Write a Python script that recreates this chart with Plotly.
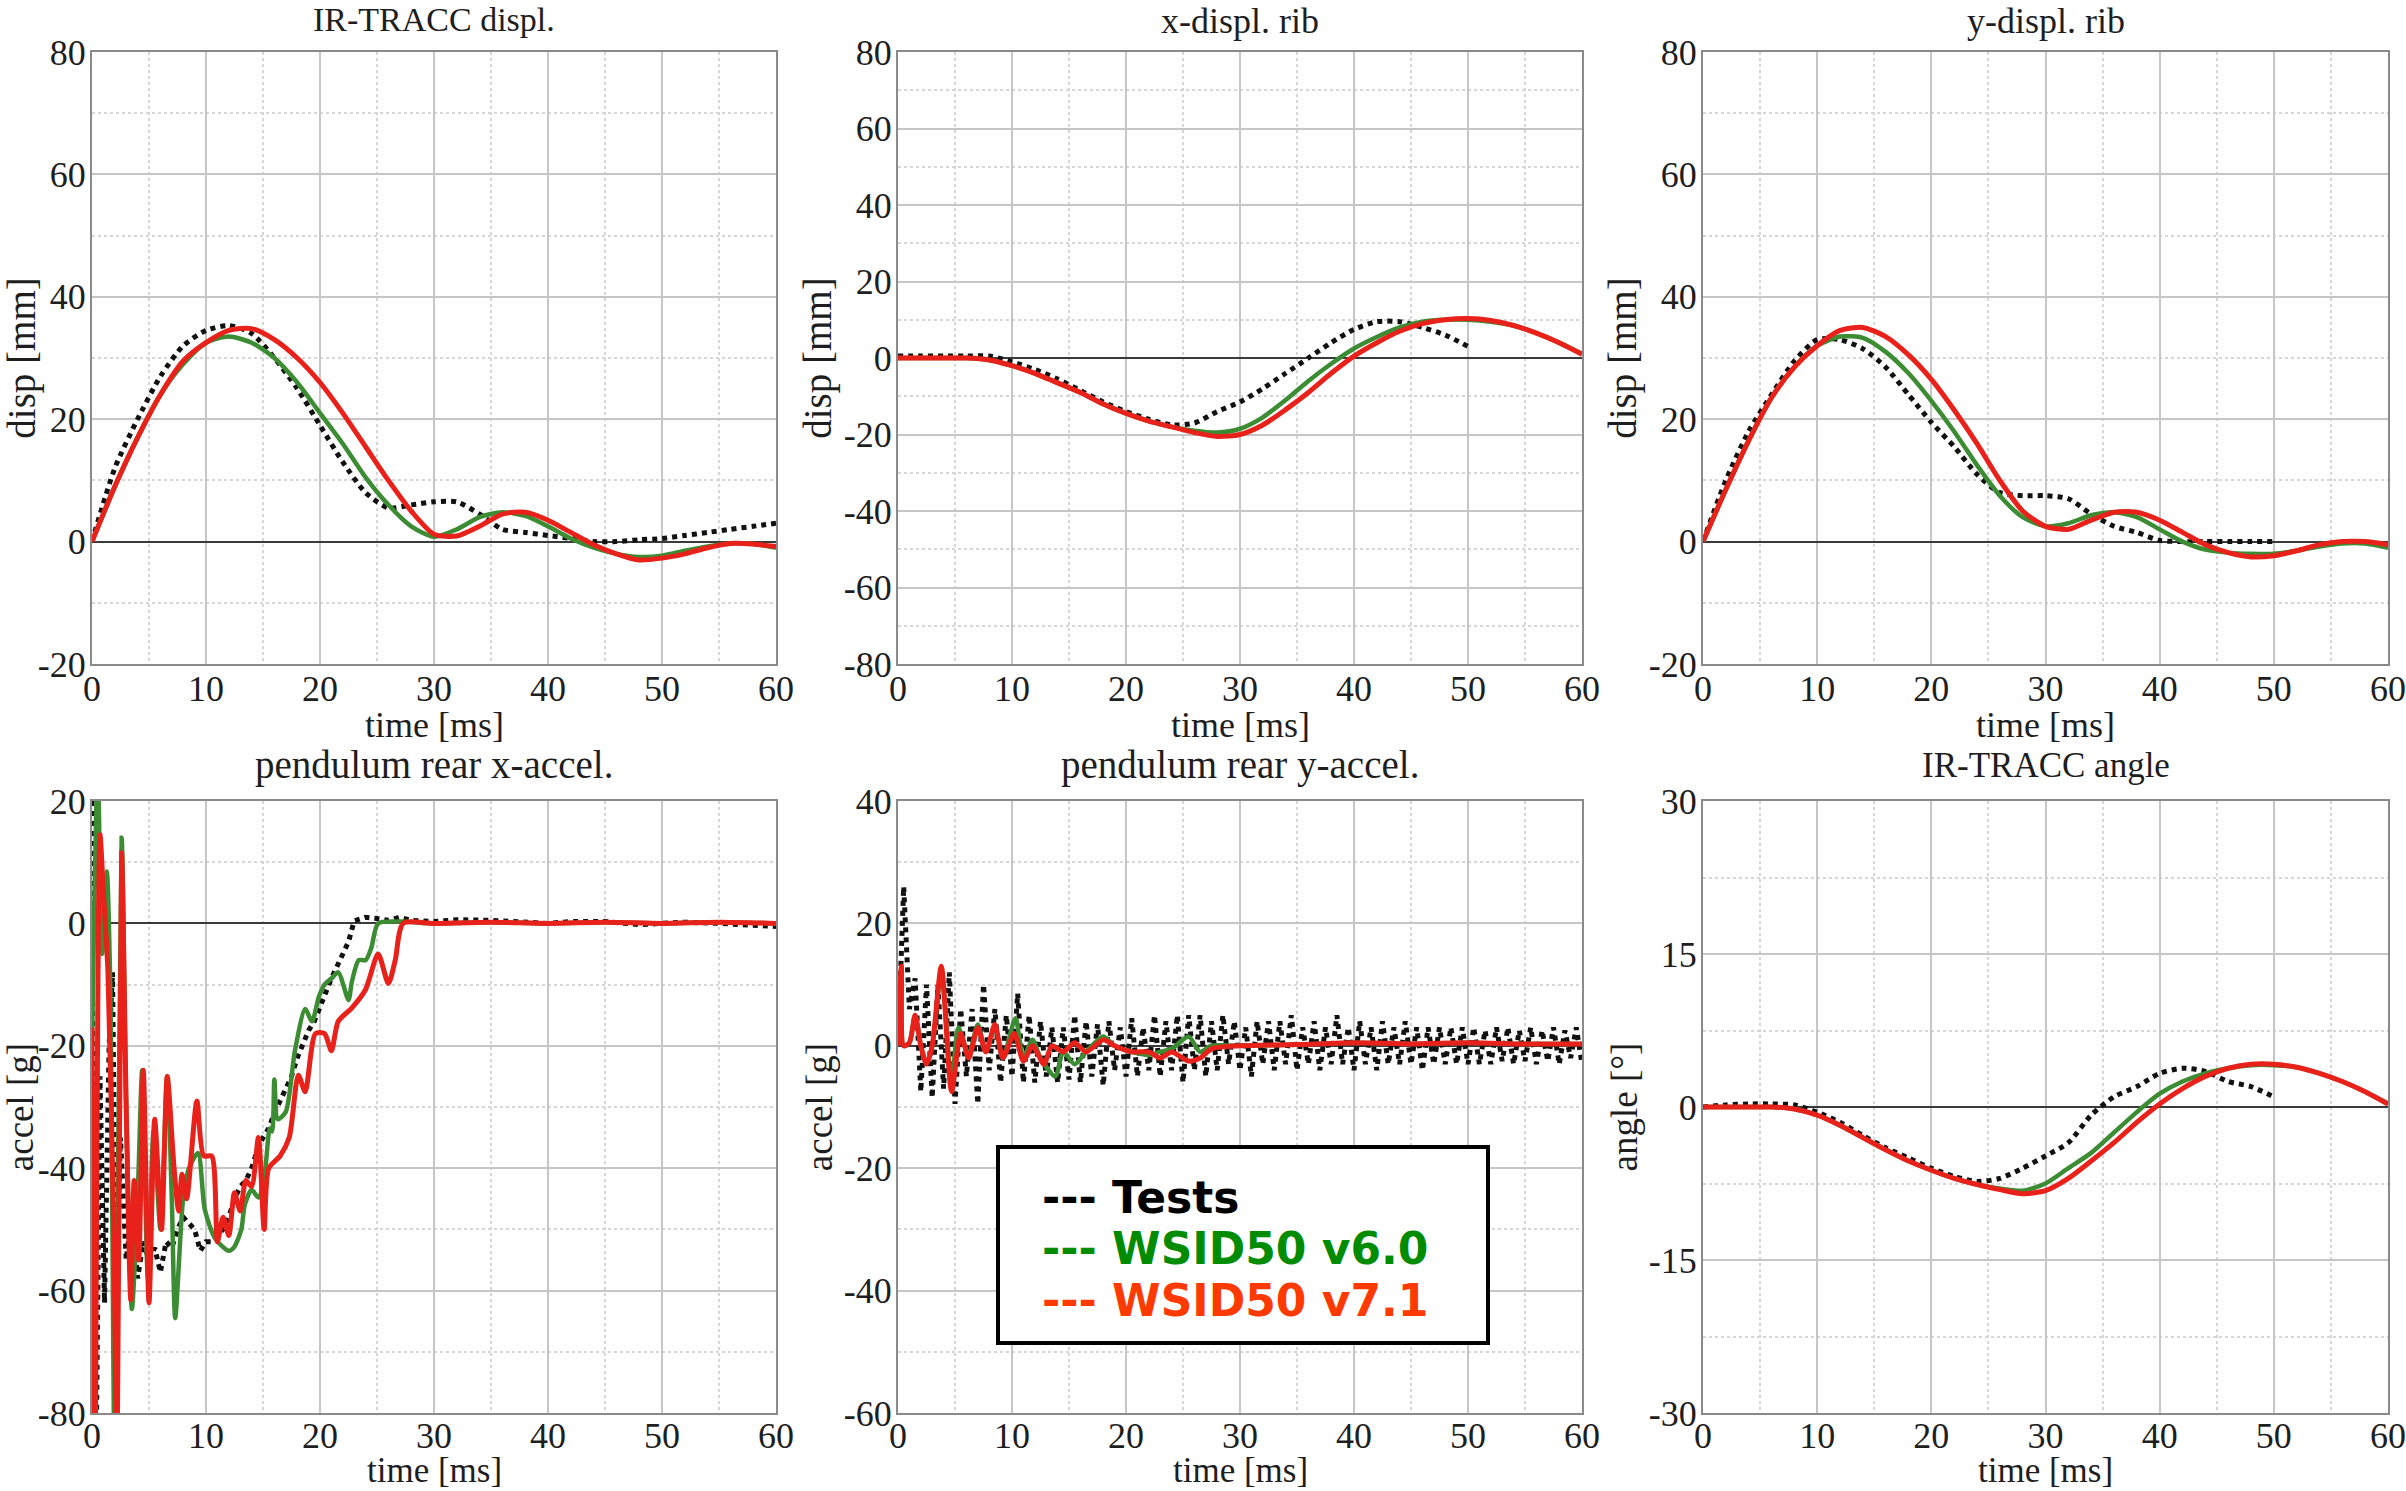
import plotly.graph_objects as go
from plotly.subplots import make_subplots

# ---------------- data ----------------
T2 = list(range(0, 61, 2))          # 0..60 ms every 2 ms
T2_50 = list(range(0, 51, 2))       # tests end at 50 ms
T_HALF = [i * 0.5 for i in range(121)]

# IR-TRACC displ.
irtracc_test = [0, 12, 20, 27, 32, 34.5, 35.3, 34, 30, 25, 19, 13, 8, 5.5, 6, 6.5, 6.5, 4.5, 2, 1.5, 1,
                0.5, 0, 0, 0.3, 0.5, 1, 1.5, 2, 2.5, 3]
irtracc_v60 = [0, 9, 17, 24, 29, 32.5, 33.5, 32.5, 30, 26, 21, 16, 10.5, 6, 2.5, 0.8, 2, 4, 4.8, 4.2, 2.5,
               0.5, -1, -2, -2.5, -2.3, -1.5, -0.8, -0.3, -0.4, -1]
irtracc_v71 = [0, 9, 17, 24, 29.5, 32.5, 34.5, 34.8, 33, 30, 26, 21, 15.5, 10, 5, 1.2, 0.9, 2.5, 4.5, 4.8,
               3.5, 1.5, -0.5, -2, -3, -2.7, -2, -1, -0.3, -0.4, -0.8]

# x-displ. rib
xrib_test = [0.5, 0.5, 0.5, 0.5, 0.5, -1, -3, -5.5, -8.5, -11.5, -14, -16, -17.5, -17, -14, -11.5, -8, -4,
             0, 4, 7.5, 9.5, 9.5, 8, 6, 3]
xrib_v60 = [0, 0, 0, 0, -0.5, -2, -4, -6.5, -9, -12, -14.5, -16.5, -18, -19, -19.5, -18.5, -15.5, -11, -6,
            -1.5, 2.5, 5.5, 8, 9.5, 10, 10, 9.5, 8.5, 6.5, 4, 1]
xrib_v71 = [0, 0, 0, 0, -0.5, -2, -4, -6.5, -9, -12, -14.5, -16.5, -18, -19.5, -20.5, -20, -17.5, -13.5,
            -9, -4, 0.5, 4, 7, 9, 10, 10.3, 9.8, 8.5, 6.5, 4, 1]

# y-displ. rib
yrib_test = [0, 10, 18, 24, 29.5, 33, 33, 31.5, 28.5, 24, 19.5, 15.5, 11, 8, 7.5, 7.5, 7, 4.5, 2.5, 1.5,
             0.2, 0, 0, 0, 0, 0]
yrib_v60 = [0, 8.5, 16.5, 23.5, 28.5, 32, 33.5, 33.3, 31, 27.5, 23, 18, 12.5, 7.5, 4, 2.5, 3, 4.3, 4.8, 4,
            2, 0, -1.3, -1.8, -2, -2, -1.5, -0.8, -0.3, -0.3, -1]
yrib_v71 = [0, 8.5, 16.5, 23.5, 28.5, 32, 34.5, 35, 33.5, 30.5, 26.5, 21.5, 16, 10, 5, 2.5, 2, 3.5, 4.8,
            4.8, 3.5, 1.5, -0.5, -1.8, -2.5, -2.3, -1.5, -0.5, 0, 0, -0.5]

# pendulum rear x-accel.
xacc_test_t = [0, 0.15, 0.35, 0.7, 1.1, 1.5, 1.8, 2.1, 2.5, 3.0, 3.5, 4.0, 4.5, 5.0, 5.5, 6.0, 6.5, 7.0,
               7.5, 8.0, 8.5, 9.0, 9.5, 10.0, 10.5, 11.0, 11.5, 12.0, 12.5, 13.0, 13.5, 14.0, 14.5, 15.0,
               15.5, 16.0, 16.5, 17.0, 17.5, 18.0, 18.5, 19.0, 19.5, 20.0, 20.5, 21.0, 21.5, 22.0, 22.5,
               23.0, 23.5, 24.0, 25.0, 26.0, 27.0, 28.0, 30.0, 32, 35.0, 38, 40.0, 42, 45.0, 48, 50.0, 52,
               55.0, 58, 60.0]
xacc_test = [20, -90, -90, -25, -62, -20, -8, -61, -35, -55, -47, -58, -52, -55, -53, -57, -52, -53, -50,
             -48, -49, -50, -53.5, -52, -52, -51, -50, -48, -45, -43, -42, -40, -37, -35, -33.5, -31, -29,
             -27, -25, -22, -19.5, -17.5, -16, -13.5, -11.5, -9, -7, -5, -3, 0.4, 0.8, 1, 0.8, 0.5, 1, 0.5,
             0.3, 0.6, 0.5, 0.2, 0, 0.3, 0.3, -0.2, 0, 0.2, 0, -0.3, -0.5]
xacc_v60_t = [0, 0.5, 0.9, 1.3, 1.6, 2.0, 2.6, 3.0, 3.5, 4.0, 4.4, 4.9, 5.4, 6.0, 6.6, 7.0, 7.3, 8.0, 8.5,
              9.3, 9.9, 10.8, 12.0, 12.5, 13.1, 13.4, 14.0, 14.6, 15.2, 15.6, 15.8, 16.0, 16.3, 17.0, 17.8,
              18.7, 19.3, 19.9, 20.4, 21.0, 21.6, 22.5, 22.8, 23.4, 24.0, 24.5, 25.1, 27, 30, 35, 40, 45,
              50, 55, 60]
xacc_v60 = [-20, 25, -5, 8.5, -10, -90, 14, -30, -63, -45, -24, -58, -34, -50, -25, -45, -64.5, -44.8, -40,
            -37.5, -46.8, -51.5, -53.5, -52.8, -50, -46, -43.5, -44.8, -40, -33.5, -34, -25.5, -32, -30.8,
            -20.8, -14, -16, -12, -10, -9, -8, -12.5, -9.5, -6, -6, -4, 0, 0.3, 0, 0.2, 0, 0.2, 0, 0.2, 0]
xacc_v71_t = [0, 0.25, 0.7, 1.0, 1.4, 1.9, 2.2, 2.6, 3.0, 3.4, 3.7, 4.1, 4.5, 5.0, 5.5, 6.1, 6.6, 7.2, 7.6,
              7.9, 8.3, 9.2, 9.8, 10.5, 11.0, 11.5, 12.0, 12.5, 13.0, 13.5, 14.0, 14.6, 15.1, 15.5, 16.5,
              17.3, 18.1, 18.7, 19.6, 20.4, 21.0, 21.6, 22.8, 24.0, 25.1, 26.0, 26.6, 27.3, 30, 35, 40,
              45, 50, 55, 60]
xacc_v71 = [-17, -90, 14.5, 5, -8, -50, -90, 11.5, -30, -61.5, -42, -55, -24, -62, -32, -50, -25, -40, -47,
            -41, -45, -29, -38, -38, -52, -48, -51, -44, -47, -42, -43, -35, -50, -40, -38, -35, -24.8,
            -27.5, -18, -18, -20.8, -16, -13.8, -10.8, -5, -9.8, -6, 0, 0, 0.2, 0, 0.2, 0, 0.2, 0]

# pendulum rear y-accel.
yacc_test = [0, 26, 6, 11, -7.5, 10, -8.5, 10, -7, 12,
             -9.5, 6, -5, 6, -9.5, 10, -4, 6, -6, 5,
             -5, 8.5, -6, 5, -6, 4, -5, 3, -6, 3,
             -5.5, 5, -6, 4, -5, 3.5, -6.5, 4, -4, 3,
             -5, 4.5, -5, 3, -4, 5, -5, 4, -4, 5,
             -6, 5, -4, 5, -5, 4, -4, 5, -3, 4,
             -4, 3, -5, 4, -3, 4, -4, 4, -3, 5,
             -4, 3, -3, 4, -4, 3, -3, 5, -3, 3,
             -4, 4, -3, 3, -4, 4, -3, 3, -3, 4,
             -3, 3, -4, 3, -3, 3, -3, 3, -3, 3,
             -3, 3, -3, 2.5, -3, 3, -2.5, 3, -3, 2.5,
             -2.5, 3, -3, 2.5, -2.5, 3, -3, 2.5, -2, 3,
             -3]
yacc_v60_t = [0, 0.3, 0.5, 1.0, 1.5, 2.0, 2.5, 3.0, 3.8, 4.7, 5.3, 6.2, 7.0, 7.7, 8.5, 9.2, 10.3, 11.0,
              11.8, 12.5, 13.8, 14.5, 15.5, 16.5, 18.0, 19.0, 20.5, 22.0, 23.0, 24.0, 25.5, 26.5, 27.5, 30,
              35, 40, 45, 50, 55, 60]
yacc_v60 = [0, 12, 0, 0.5, 5, 0, -3, 0, 12, -6, 3, -1.5, 3.5, -1, 3, -2, 4.5, -2, 1, -2, -5, -1, -3, -1,
            1.5, 0, -1, -1.5, -1, -0.5, 1.5, -1, 0, 0, 0.2, 0.5, 0.3, 0.5, 0.3, 0.3]
yacc_v71_t = [0, 0.3, 0.5, 1.0, 1.5, 2.0, 2.5, 3.0, 3.8, 4.7, 5.5, 6.2, 7.0, 7.7, 8.5, 9.2, 10.2, 11.0,
              11.8, 12.8, 13.5, 14.5, 15.5, 16.5, 18.0, 19.0, 20.5, 22.0, 23.0, 24.0, 25.5, 26.5, 27.5, 30,
              35, 40, 45, 50, 55, 60]
yacc_v71 = [0, 13, 0, 0.5, 5, 0, -3, 0, 13, -7.5, 2, -2, 3, -1, 3.5, -2, 2, -2.5, 0, -3, 0, -1, 0.5, -1,
            1, 0, -1, -1, -2, -1, -2.5, -2, -0.5, 0, 0.2, 0.5, 0.3, 0.5, 0.3, 0.3]

# IR-TRACC angle
angle_test = [0, 0.2, 0.3, 0.3, 0.2, -0.5, -1.5, -2.8, -4, -5, -6, -6.8, -7.3, -7, -6, -4.8, -3.5, -0.8,
              1, 2, 3.3, 3.8, 3.5, 2.5, 2, 1]
angle_v60 = [0, 0, 0, 0, -0.2, -0.8, -1.8, -3, -4.2, -5.3, -6.2, -7, -7.6, -8, -8.2, -7.5, -6, -4.5, -2.5,
             -0.5, 1.3, 2.5, 3.3, 3.8, 4.1, 4.1, 3.9, 3.3, 2.5, 1.5, 0.3]
angle_v71 = [0, 0, 0, 0, -0.2, -0.8, -1.8, -3, -4.2, -5.3, -6.2, -7, -7.6, -8.1, -8.5, -8.2, -7, -5.3,
             -3.5, -1.5, 0.3, 1.8, 3, 3.8, 4.2, 4.2, 3.9, 3.3, 2.5, 1.5, 0.3]

titles = ["IR-TRACC displ.", "x-displ. rib", "y-displ. rib",
          "pendulum rear x-accel.", "pendulum rear y-accel.", "IR-TRACC angle"]
ylabels = ["disp [mm]", "disp [mm]", "disp [mm]", "accel [g]", "accel [g]", "angle [°]"]
xlabel = "time [ms]"
x_ticks = [0, 10, 20, 30, 40, 50, 60]
y_ticks = [
    [-20, 0, 20, 40, 60, 80],
    [-80, -60, -40, -20, 0, 20, 40, 60, 80],
    [-20, 0, 20, 40, 60, 80],
    [-80, -60, -40, -20, 0, 20],
    [-60, -40, -20, 0, 20, 40],
    [-30, -15, 0, 15, 30],
]
legend_names = ["Tests", "WSID50 v6.0", "WSID50 v7.1"]

# ---------------- style ----------------
W, H = 2406, 1491
C_TEST, C_V60, C_V71 = "#111111", "#3c8c34", "#e8221b"
LEG_COLORS = ["#000000", "#008c00", "#ff3a00"]
SERIF = "Liberation Serif"
TXT = "#1e1e1e"
TITLE_SIZES = [34, 36, 36, 39, 39, 35]
YLABEL_SIZES = [39, 39, 39, 37, 37, 37]


def px(xp):
    return xp / W


def py(yp):
    return 1 - yp / H


panels = [
    [(T2, irtracc_test, "spline"), (T2, irtracc_v60, "spline"), (T2, irtracc_v71, "spline")],
    [(T2_50, xrib_test, "spline"), (T2, xrib_v60, "spline"), (T2, xrib_v71, "spline")],
    [(T2_50, yrib_test, "spline"), (T2, yrib_v60, "spline"), (T2, yrib_v71, "spline")],
    [(xacc_test_t, xacc_test, "linear"), (xacc_v60_t, xacc_v60, "spline"), (xacc_v71_t, xacc_v71, "spline")],
    [(T_HALF, yacc_test, "linear"), (yacc_v60_t, yacc_v60, "spline"), (yacc_v71_t, yacc_v71, "spline")],
    [(T2_50, angle_test, "spline"), (T2, angle_v60, "spline"), (T2, angle_v71, "spline")],
]

fig = make_subplots(rows=2, cols=3)

xdom_px = [(92, 776), (898, 1582), (1703, 2388)]
ydom_px = [(52, 664), (801, 1413)]

for i, series in enumerate(panels):
    r, c = i // 3 + 1, i % 3 + 1
    for k, (tx, vy, shape) in enumerate(series):
        if k == 0:
            line = dict(color=C_TEST, width=5, dash="dot", shape=shape)
        elif k == 1:
            line = dict(color=C_V60, width=4.5, shape=shape)
        else:
            line = dict(color=C_V71, width=5, shape=shape)
        if shape == "spline":
            line["smoothing"] = 0.7
        fig.add_trace(go.Scatter(x=tx, y=vy, mode="lines", line=line, name=legend_names[k],
                                 showlegend=False, hoverinfo="skip"), row=r, col=c)

    xd = xdom_px[c - 1]
    yd = ydom_px[r - 1]
    ax_idx = "" if i == 0 else str(i + 1)
    fig.layout["xaxis" + ax_idx].update(
        domain=[px(xd[0]), px(xd[1])], range=[0, 60],
        tickmode="array", tickvals=x_ticks, ticktext=[str(v) for v in x_ticks],
        showgrid=True, gridcolor="#c6c6c6", gridwidth=1.5,
        minor=dict(dtick=5, tick0=0, showgrid=True, gridcolor="#d6d6d6", griddash="dot", gridwidth=1.5),
        showline=True, mirror=True, linecolor="#8a8a8a", linewidth=2, zeroline=False,
        ticks="", ticklabelstandoff=(-8 if r == 1 else -10), ticklabeloverflow="allow",
        tickfont=dict(family=SERIF, size=36, color=TXT),
        automargin=False, fixedrange=True)
    yt = y_ticks[i]
    step = yt[1] - yt[0]
    fig.layout["yaxis" + ax_idx].update(
        domain=[py(yd[1]), py(yd[0])], range=[yt[0], yt[-1]],
        tickmode="array", tickvals=yt, ticktext=[str(v) for v in yt],
        showgrid=True, gridcolor="#c6c6c6", gridwidth=1.5,
        minor=dict(dtick=step / 2, tick0=yt[0], showgrid=True, gridcolor="#d6d6d6", griddash="dot",
                   gridwidth=1.5),
        showline=True, mirror=True, linecolor="#8a8a8a", linewidth=2,
        zeroline=True, zerolinecolor="#3a3a3a", zerolinewidth=1.5,
        ticks="", ticklabelstandoff=-3, ticklabeloverflow="allow",
        tickfont=dict(family=SERIF, size=36, color=TXT),
        title=dict(text=ylabels[i], font=dict(family=SERIF, size=YLABEL_SIZES[i], color=TXT), standoff=0),
        automargin=False, fixedrange=True)

    xc = px((xd[0] + xd[1]) / 2)
    if r == 1:
        fig.add_annotation(text=titles[i], xref="paper", yref="paper", x=xc, y=1,
                           xanchor="center", yanchor="top", showarrow=False, borderpad=0,
                           font=dict(family=SERIF, size=TITLE_SIZES[i], color=TXT))
        fig.add_annotation(text=xlabel, xref="paper", yref="paper", x=xc, y=py(725),
                           xanchor="center", yanchor="middle", showarrow=False,
                           font=dict(family=SERIF, size=36, color=TXT))
    else:
        fig.add_annotation(text=titles[i], xref="paper", yref="paper", x=xc, y=py(765),
                           xanchor="center", yanchor="middle", showarrow=False,
                           font=dict(family=SERIF, size=TITLE_SIZES[i], color=TXT))
        fig.add_annotation(text=xlabel, xref="paper", yref="paper", x=xc, y=0,
                           xanchor="center", yanchor="bottom", showarrow=False, borderpad=0,
                           font=dict(family=SERIF, size=35, color=TXT))

# legend box
fig.add_shape(type="rect", xref="paper", yref="paper",
              x0=px(998), x1=px(1488), y0=py(1343), y1=py(1147),
              line=dict(color="black", width=4), fillcolor="white", layer="above")
for k, ypx in enumerate([1197, 1248, 1300]):
    fig.add_annotation(text="--- " + legend_names[k], xref="paper", yref="paper",
                       x=px(1040), y=py(ypx), xanchor="left", yanchor="middle", showarrow=False,
                       font=dict(family="DejaVu Sans", size=44, color=LEG_COLORS[k], weight="bold"))

fig.update_layout(width=W, height=H, margin=dict(l=0, r=0, t=0, b=0),
                  paper_bgcolor="white", plot_bgcolor="white", showlegend=False)

fig.write_html("out.html", config={"displayModeBar": False},
               post_script="document.body.style.margin='0';document.body.style.overflow='hidden';")
